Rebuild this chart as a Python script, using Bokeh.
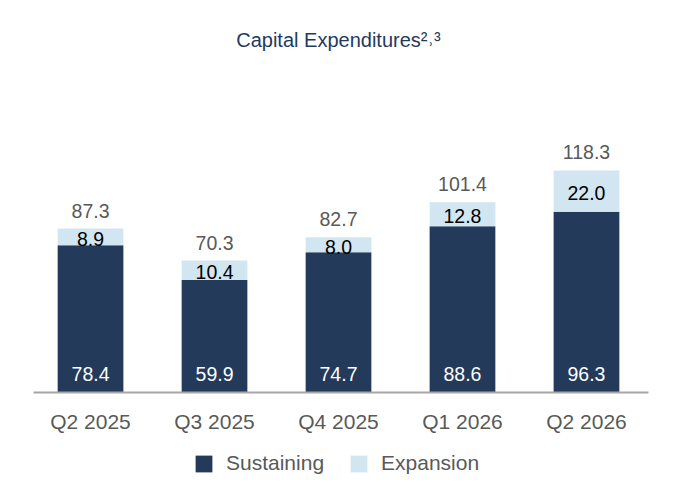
from bokeh.plotting import figure
from bokeh.models import ColumnDataSource, Label, Legend, LegendItem, FactorRange
from bokeh.embed import file_html
from bokeh.resources import INLINE
from bokeh.core.properties import value

quarters = ["Q2 2025", "Q3 2025", "Q4 2025", "Q1 2026", "Q2 2026"]
sustaining = [78.4, 59.9, 74.7, 88.6, 96.3]
expansion = [8.9, 10.4, 8.0, 12.8, 22.0]
totals = [87.3, 70.3, 82.7, 101.4, 118.3]

FONT = "Liberation Sans"
DARK = "#243a5a"
LIGHT = "#d2e6f1"
GRAY = "#595959"

src = ColumnDataSource(dict(
    q=quarters, s=sustaining, e=expansion, t=totals,
    zero=[0] * len(quarters), top=[s + e for s, e in zip(sustaining, expansion)],
    emid=[s + e / 2 for s, e in zip(sustaining, expansion)],
    s_txt=[f"{v:.1f}" for v in sustaining],
    e_txt=[f"{v:.1f}" for v in expansion],
    t_txt=[f"{v:.1f}" for v in totals],
))

xr = FactorRange(*quarters, range_padding=0.226, range_padding_units="absolute")
p = figure(width=676, height=484, x_range=xr, y_range=(-49.0, 208.8),
           output_backend="svg", toolbar_location=None,
           min_border=0, min_border_left=0, min_border_right=0,
           min_border_top=0, min_border_bottom=0)
p.outline_line_color = None
p.grid.grid_line_color = None
p.xaxis.visible = False
p.yaxis.visible = False
p.background_fill_color = "white"
p.border_fill_color = "white"

r1 = p.vbar(x="q", bottom="zero", top="s", width=0.53, source=src, fill_color=DARK, line_color=None)
r2 = p.vbar(x="q", bottom="s", top="top", width=0.53, source=src, fill_color=LIGHT, line_color=None)

# baseline (category axis line)
p.segment(x0=[0.04], y0=[0], x1=[5.0], y1=[0], line_color="#a6a6a6", line_width=2)

# category labels
p.text(x="q", y="zero", text="q", source=src, text_align="center", text_baseline="middle",
       y_offset=29, text_color=GRAY, text_font=value(FONT), text_font_size="21px")

p.text(x="q", y="zero", text="s_txt", source=src, text_align="center", text_baseline="middle",
       y_offset=-19, text_color="white", text_font=value(FONT), text_font_size="19.5px")
p.text(x="q", y="emid", text="e_txt", source=src, text_align="center", text_baseline="middle",
       y_offset=2, text_color="#000000", text_font=value(FONT), text_font_size="19.5px")
p.text(x="q", y="t", text="t_txt", source=src, text_align="center", text_baseline="middle",
       y_offset=-18, text_color=GRAY, text_font=value(FONT), text_font_size="19.5px")

title = Label(x=338, y=445, x_units="screen", y_units="screen", text="Capital Expenditures²˒³",
              text_align="center", text_baseline="middle", text_font=FONT,
              text_font_size="20px", text_color="#1f3a5f")
p.add_layout(title)

legend = Legend(items=[LegendItem(label="Sustaining", renderers=[r1]),
                       LegendItem(label="Expansion", renderers=[r2])],
                orientation="horizontal", location=(193, 9),
                glyph_width=21, glyph_height=21, label_standoff=12, spacing=24,
                padding=0, margin=0, border_line_color=None, background_fill_alpha=0,
                label_text_font=FONT, label_text_font_size="21px", label_text_color=GRAY)
p.add_layout(legend, "center")

open("out.html", "w").write(file_html(p, INLINE))
